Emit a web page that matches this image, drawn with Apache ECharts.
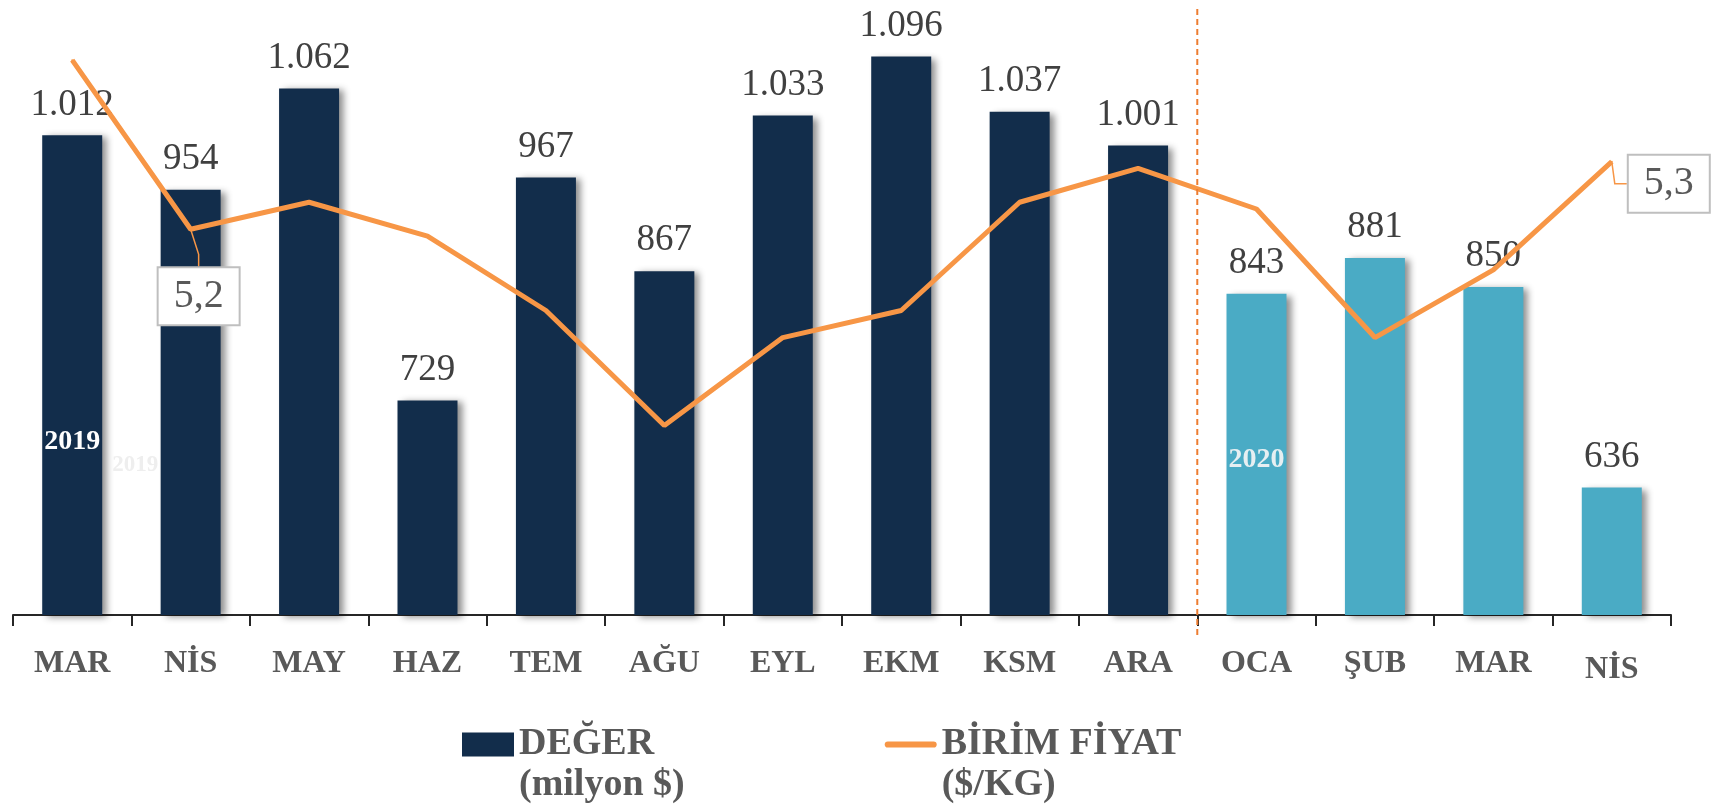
<!DOCTYPE html>
<html>
<head>
  <meta charset="utf-8">
  <title>Değer ve birim fiyat</title>
  <script src="https://cdn.jsdelivr.net/npm/echarts@6/dist/echarts.min.js"></script>
  <style>html,body{margin:0;padding:0;background:#fff;}</style>
</head>
<body>
  <div id="chart" style="width:1715px;height:808px;"></div>
  <script>
    const months = ['MAR', 'NİS', 'MAY', 'HAZ', 'TEM', 'AĞU', 'EYL', 'EKM', 'KSM', 'ARA', 'OCA', 'ŞUB', 'MAR', 'NİS'];
    const values = [1012, 954, 1062, 729, 967, 867, 1033, 1096, 1037, 1001, 843, 881, 850, 636];
    const unitPrice = [5.42, 5.17, 5.21, 5.16, 5.05, 4.88, 5.01, 5.05, 5.21, 5.26, 5.20, 5.01, 5.11, 5.27];
    const firstOf2020 = 10;      // OCA 2020
    const labelledPrices = [1, 13];

    const FONT = "'Liberation Serif', 'Times New Roman', serif";
    const NAVY = '#122d4b', LIGHT = '#4aabc5', ORANGE = '#f79646';

    function thousands(v) {
      return String(v).replace(/\B(?=(\d{3})+(?!\d))/g, '.');
    }

    let barData = values.map(function (v, i) {
      return i >= firstOf2020 ? { value: v, itemStyle: { color: LIGHT } } : v;
    });
    let lineData = unitPrice.map(function (v, i) {
      if (labelledPrices.indexOf(i) < 0) return v;
      return { value: v, label: { show: true } };
    });
    let cats = months.map(function (m, i) {
      return i == months.length - 1 ? { value: m, textStyle: { padding: [6, 0, 0, 0] } } : m;
    });

    let chart = echarts.init(document.getElementById('chart'));
    chart.setOption({
      animation: false,
      grid: { left: 13, right: 44, top: 6, bottom: 193 },
      legend: {
        left: 462, top: 683, padding: 0,
        itemGap: 200, itemWidth: 52, itemHeight: 24,
        formatter: '\n{name}',
        textStyle: {
          fontFamily: FONT, fontSize: 38, fontWeight: 'bold', color: '#595959', lineHeight: 41
        },
        data: [
          { name: 'DEĞER\n(milyon $)', icon: 'rect' },
          { name: 'BİRİM FİYAT\n($/KG)', icon: 'path://M3,0L47,0A3,3,0,0,1,47,6L3,6A3,3,0,0,1,3,0Z' }
        ]
      },
      xAxis: {
        type: 'category',
        data: cats,
        axisLine: { lineStyle: { color: '#262626', width: 2 } },
        axisTick: { show: true, length: 11, lineStyle: { color: '#262626', width: 2 } },
        axisLabel: {
          margin: 33, fontFamily: FONT, fontSize: 32, fontWeight: 'bold', color: '#595959'
        }
      },
      yAxis: [
        { type: 'value', min: 500, max: 1150, show: false, splitLine: { show: false } },
        { type: 'value', min: 4.6, max: 5.5, show: false, splitLine: { show: false } }
      ],
      series: [
        {
          name: 'DEĞER\n(milyon $)',
          type: 'bar',
          barWidth: 60,
          data: barData,
          itemStyle: {
            color: NAVY,
            shadowColor: 'rgba(0,0,0,0.45)', shadowBlur: 7, shadowOffsetX: 5, shadowOffsetY: 2
          },
          label: {
            show: true, position: 'top', distance: 12,
            fontFamily: FONT, fontSize: 37, color: '#404040',
            formatter: function (p) { return thousands(p.value); }
          },
          markPoint: {
            symbol: 'rect', symbolSize: 1,
            itemStyle: { color: 'rgba(0,0,0,0)' },
            label: { show: true, position: 'inside', fontFamily: FONT, fontWeight: 'bold' },
            data: [
              { coord: [0, 685], label: { formatter: '2019', fontSize: 28, color: '#ffffff' } },
              { coord: [0, 660], label: { formatter: '2019', fontSize: 23, color: '#eeeeee', offset: [63, 0] } },
              { coord: [firstOf2020, 666], label: { formatter: '2020', fontSize: 28, color: '#e6eff2' } }
            ]
          }
        },
        {
          name: 'BİRİM FİYAT\n($/KG)',
          type: 'line',
          yAxisIndex: 1,
          data: lineData,
          symbol: 'circle', symbolSize: 2, showSymbol: true,
          itemStyle: { color: ORANGE },
          lineStyle: { color: ORANGE, width: 5 },
          z: 5,
          label: {
            show: false, position: 'inside',
            fontFamily: FONT, fontSize: 40, color: '#595959',
            backgroundColor: '#ffffff', borderColor: '#bfbfbf', borderWidth: 2,
            padding: [8, 15],
            formatter: function (p) { return p.value.toFixed(1).replace('.', ','); }
          },
          labelLine: { show: true, length2: 12, lineStyle: { color: ORANGE, width: 1.5 } },
          labelLayout: function (p) {
            if (p.dataIndex == 1) return { dx: 8, dy: 67 };
            if (p.dataIndex == 13) return { dx: 57, dy: 22 };
          }
        }
      ]
    });

    // dashed divider between 2019 and 2020
    let gx = (chart.convertToPixel({ xAxisIndex: 0 }, firstOf2020 - 1) +
              chart.convertToPixel({ xAxisIndex: 0 }, firstOf2020)) / 2;
    chart.setOption({
      graphic: [{
        type: 'line', z: 10,
        shape: { x1: gx, y1: 9, x2: gx, y2: 635 },
        style: { stroke: '#ed7d31', lineWidth: 2, lineDash: [6, 4] }
      }]
    });
  </script>
</body>
</html>
